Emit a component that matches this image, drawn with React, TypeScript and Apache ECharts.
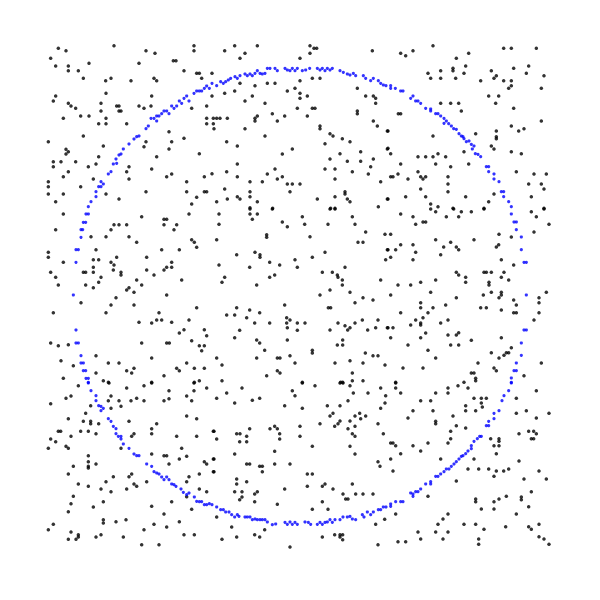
import React, { useEffect, useRef } from "react";
import * as echarts from "echarts";

// Values are in the chart's own units: both axes run from 0 to 1566 (y grows downward).
const axisMin = 0;
const axisMax = 1566;

// Scattered black points, upper band
const scatterUpper: number[][] = [
  [222,32],[55,40],[78,47],[462,32],[462,47],[318,47],[345,55],[32,70],[400,77],[408,77],[147,85],[297,85],[47,93],[85,93],[85,107],[115,107],[432,107],[470,115],[478,115],[516,115],[130,130],[485,130],[197,137],[213,130],[273,137],[342,130],[350,137],[198,175],[335,183],[47,183],[40,198],[85,205],[93,213],[107,220],[183,205],[230,213],[237,213],[297,213],[312,220],[333,213],[455,220],[500,213],[516,183],[122,243],[147,243],[183,228],[237,228],[243,228],[70,250],[198,250],[176,266],[198,266],[260,266],[500,250],[500,266],[520,250],[520,266],[387,290],[130,303],[432,310],[25,320],[318,320],[395,320],[190,333],[312,335],[78,343],[85,350],[78,357],[387,342],[478,356],[176,365],[350,365],[40,380],[63,380],[107,380],[40,395],[145,395],[168,387],[267,395],[335,402],[85,410],[260,410],[395,417],[516,416],[70,425],[380,425],[493,425],[160,432],[267,432],[25,440],[440,440],[25,455],[122,455],[25,477],[70,477],[198,477],[318,470],[440,470],[493,470],[500,470],[47,500],[237,492],[470,487],[455,507],
  [554,47],[584,32],[652,32],[615,55],[600,70],[810,32],[822,40],[830,40],[997,47],[780,70],[810,55],[780,137],[817,130],[840,130],[600,145],[645,152],[682,145],[705,145],[765,160],[742,168],[780,175],[780,190],[802,183],[554,175],[584,168],[637,183],[615,198],[952,160],[977,183],[1000,183],[1007,190],[1007,205],[675,205],[772,220],[817,220],[825,220],[697,236],[652,243],[645,250],[645,258],[734,243],[802,243],[952,228],[952,236],[1000,258],[530,250],[540,250],[562,250],[712,258],[522,281],[615,281],[840,273],[840,281],[1012,273],[1042,288],[870,296],[879,303],[675,303],[907,311],[930,320],[560,320],[592,333],[855,326],[757,342],[1042,342],[962,350],[727,357],[900,356],[870,372],[922,379],[962,379],[1000,372],[592,387],[705,402],[855,402],[885,402],[937,410],[992,395],[560,410],[682,417],[727,425],[712,432],[592,425],[985,417],[630,440],[667,440],[742,447],[757,447],[780,447],[885,432],[1022,440],[554,462],[630,470],[750,470],[915,470],[915,477],[630,485],[592,485],[600,492],[562,492],[530,500],[652,500],[832,492],[885,485],[922,492],[930,500],[1042,492],[630,518],[698,520],[872,520],[885,520],[1015,515],
  [1179,32],[1082,55],[1097,62],[1119,47],[1286,55],[1391,40],[1414,40],[1489,40],[1249,70],[1277,93],[1239,100],[1239,107],[1202,107],[1164,115],[1172,130],[1202,130],[1247,130],[1272,115],[1322,137],[1354,107],[1369,122],[1362,130],[1391,137],[1414,137],[1421,100],[1459,115],[1466,93],[1512,122],[1414,152],[1406,160],[1504,160],[1346,183],[1376,183],[1367,205],[1202,205],[1232,205],[1256,205],[1264,228],[1075,236],[1082,236],[1421,220],[1504,258],[1414,273],[1452,281],[1436,288],[1369,288],[1369,305],[1369,311],[1307,296],[1179,303],[1044,288],[1354,333],[1362,342],[1272,350],[1414,350],[1444,356],[1044,340],[1052,356],[1134,365],[1157,365],[1179,365],[1194,356],[1217,365],[1082,387],[1187,387],[1286,387],[1232,395],[1429,410],[1482,417],[1519,417],[1074,417],[1052,425],[1059,425],[1104,432],[1134,410],[1142,425],[1149,432],[1157,425],[1224,425],[1224,447],[1466,447],[1504,447],[1142,462],[1224,470],[1512,462],[1362,477],[1097,485],[1157,485],[1277,485],[1474,485],[1044,492],[1172,507],[1194,515],[1239,520],[1346,500],[1332,520],[1512,520]
];

// Scattered black points, middle band
const scatterMiddle: number[][] = [
  [70,537],[305,545],[447,537],[372,553],[380,553],[372,569],[410,569],[222,569],[237,569],[260,569],[47,584],[213,584],[402,584],[153,605],[198,605],[267,605],[290,622],[455,614],[463,622],[470,637],[25,652],[25,667],[168,644],[365,644],[418,644],[230,667],[320,667],[160,674],[176,674],[70,682],[213,682],[222,690],[395,682],[395,697],[380,697],[372,705],[130,712],[137,712],[160,712],[160,697],[220,705],[243,712],[243,720],[320,705],[342,720],[32,712],[47,727],[183,727],[176,742],[55,750],[137,750],[160,758],[290,735],[267,758],[260,765],[305,750],[282,772],[425,735],[380,780],[228,788],[123,803],[213,810],[282,810],[470,818],[40,833],[198,833],[357,833],[297,862],[335,864],[350,855],[365,855],[395,862],[447,855],[432,884],[418,894],[493,884],[500,902],[32,924],[55,932],[85,929],[305,924],[380,924],[388,924],[455,917],[478,932],[493,932],[485,947],[168,962],[335,969],[63,977],[100,992],[205,984],[237,984],[282,1000],[260,1007],[275,1014],[410,1000],[418,1007],[440,984],[463,1000],[493,1000],[168,1014],[70,1030],[190,1037],[205,1042],[372,1022],[335,1042],[463,1042],[478,1037],
  [537,537],[630,522],[630,537],[652,537],[637,553],[697,522],[787,545],[870,522],[885,522],[937,545],[537,568],[727,561],[742,575],[794,568],[864,568],[945,568],[530,614],[680,599],[680,607],[810,605],[977,591],[954,622],[969,622],[1035,598],[590,659],[645,652],[660,659],[660,667],[855,652],[1042,644],[537,690],[629,697],[689,682],[719,690],[765,674],[772,697],[817,667],[1037,674],[554,727],[546,742],[689,727],[704,720],[650,750],[847,712],[877,712],[892,720],[894,727],[915,697],[907,735],[907,750],[1022,735],[870,765],[840,780],[930,772],[969,788],[999,795],[945,803],[734,810],[590,818],[560,840],[584,840],[629,825],[659,833],[620,848],[644,864],[689,864],[740,848],[750,855],[740,864],[772,864],[795,864],[865,818],[872,818],[967,855],[1014,855],[894,864],[915,872],[930,878],[945,864],[923,885],[870,885],[983,885],[1007,878],[1042,878],[742,878],[772,886],[599,886],[584,908],[650,915],[659,924],[742,915],[908,915],[892,930],[908,930],[674,946],[817,946],[817,954],[976,954],[999,962],[1014,962],[530,969],[650,969],[712,969],[720,969],[750,962],[765,984],[885,984],[930,977],[969,984],[546,990],[1035,990],[712,1007],[720,1014],[937,1014],[680,1022],[546,1037],[787,1042],[902,1042],[908,1042],[937,1037],[969,1037],
  [1082,537],[1119,545],[1172,522],[1187,530],[1219,545],[1241,522],[1256,545],[1264,530],[1294,530],[1332,522],[1474,530],[1489,545],[1512,522],[1527,568],[1127,568],[1149,561],[1157,561],[1052,598],[1082,629],[1119,629],[1067,644],[1044,644],[1127,652],[1052,667],[1119,674],[1187,614],[1232,622],[1211,636],[1202,659],[1249,636],[1256,644],[1302,614],[1377,598],[1376,629],[1369,636],[1414,606],[1482,591],[1384,674],[1421,690],[1249,712],[1256,720],[1277,727],[1277,742],[1332,712],[1339,712],[1354,712],[1392,712],[1384,727],[1406,735],[1347,742],[1347,750],[1074,750],[1112,750],[1142,742],[1187,735],[1172,772],[1052,780],[1249,788],[1330,780],[1354,772],[1384,772],[1384,780],[1377,788],[1421,795],[1429,810],[1497,788],[1497,803],[1519,772],[1142,803],[1142,818],[1179,818],[1217,810],[1322,818],[1339,818],[1384,825],[1421,833],[1429,833],[1082,833],[1127,855],[1149,848],[1142,864],[1142,870],[1112,870],[1164,833],[1202,864],[1224,855],[1497,833],[1482,855],[1044,878],[1059,878],[1157,894],[1142,908],[1052,908],[1224,900],[1249,900],[1256,893],[1384,908],[1104,930],[1232,930],[1256,930],[1294,916],[1414,938],[1399,953],[1406,953],[1392,961],[1377,969],[1354,953],[1164,946],[1187,969],[1314,984],[1504,984],[1089,999],[1149,999],[1362,999],[1369,1007],[1294,1014],[1302,1014],[1307,1030],[1307,1037],[1452,1022],[1067,1042],[1272,1042]
];

// Scattered black points, lower band
const scatterLower: number[][] = [
  [115,1052],[207,1044],[260,1059],[312,1052],[335,1044],[387,1067],[462,1044],[462,1067],[500,1059],[78,1090],[93,1083],[32,1106],[152,1112],[213,1083],[205,1097],[213,1120],[237,1097],[243,1114],[273,1097],[290,1090],[312,1097],[372,1097],[387,1091],[440,1083],[455,1097],[85,1151],[137,1135],[130,1159],[152,1159],[152,1166],[176,1166],[267,1159],[350,1166],[440,1143],[470,1151],[55,1189],[62,1189],[93,1204],[122,1189],[145,1189],[168,1196],[282,1196],[275,1204],[335,1181],[335,1196],[410,1204],[470,1204],[520,1189],[32,1212],[47,1220],[78,1234],[85,1240],[25,1240],[243,1240],[425,1240],[145,1262],[145,1280],[145,1294],[145,1299],[168,1287],[100,1294],[335,1257],[372,1262],[380,1262],[418,1272],[440,1264],[493,1280],[500,1287],[387,1287],[520,1272],[85,1317],[220,1325],[267,1325],[275,1317],[198,1340],[282,1347],[290,1354],[320,1340],[447,1325],[478,1317],[440,1340],[520,1310],[115,1347],[145,1354],[183,1362],[213,1370],[260,1362],[478,1362],[500,1370],[100,1384],[93,1406],[85,1430],[190,1400],[160,1416],[335,1414],[395,1400],[372,1437],[455,1423],[440,1385],[190,1454],[190,1464],[228,1460],[258,1454],[418,1460],[40,1468],[25,1484],[93,1491],[115,1499],[115,1506],[108,1513],[85,1513],[168,1506],[183,1499],[250,1506],[312,1484],[342,1468],[380,1476],[432,1499],[463,1499],[305,1529],[357,1529],
  [530,1090],[560,1074],[606,1059],[584,1104],[637,1096],[659,1090],[757,1067],[765,1082],[787,1044],[825,1052],[900,1044],[909,1044],[930,1052],[940,1074],[984,1074],[1022,1059],[1037,1082],[734,1112],[787,1120],[862,1112],[900,1112],[870,1143],[879,1135],[900,1158],[894,1166],[884,1174],[840,1166],[924,1097],[930,1158],[945,1143],[959,1135],[962,1151],[977,1143],[1022,1120],[1035,1104],[522,1189],[530,1212],[590,1196],[600,1196],[629,1181],[620,1204],[620,1220],[599,1220],[690,1181],[704,1174],[712,1181],[719,1196],[719,1212],[780,1174],[780,1204],[817,1234],[924,1181],[937,1196],[945,1204],[945,1174],[930,1234],[945,1257],[1014,1166],[1030,1196],[584,1257],[704,1249],[522,1272],[620,1287],[629,1287],[659,1294],[667,1294],[667,1310],[704,1287],[750,1287],[522,1310],[802,1317],[817,1317],[802,1354],[855,1347],[847,1354],[879,1362],[937,1347],[909,1377],[917,1392],[924,1392],[947,1377],[969,1377],[999,1377],[1014,1280],[1020,1294],[590,1332],[590,1347],[620,1340],[584,1370],[606,1370],[606,1386],[599,1394],[644,1400],[644,1377],[652,1370],[734,1362],[712,1408],[847,1400],[817,1423],[864,1423],[530,1446],[1034,1453],[575,1476],[1007,1468],[674,1484],[644,1499],[659,1506],[590,1506],[546,1513],[847,1506],[884,1499],[900,1499],[908,1514],[900,1506],[908,1499],[1014,1529],[750,1536],
  [1067,1044],[1067,1059],[1082,1074],[1224,1059],[1224,1074],[1254,1052],[1284,1059],[1187,1074],[1142,1097],[1172,1097],[1302,1090],[1324,1090],[1339,1090],[1324,1104],[1327,1116],[1429,1090],[1489,1067],[1277,1112],[1277,1127],[1307,1127],[1119,1127],[1179,1127],[1104,1149],[1239,1143],[1187,1159],[1187,1166],[1249,1172],[1277,1179],[1232,1189],[1232,1211],[1224,1224],[1429,1135],[1459,1127],[1489,1149],[1527,1135],[1437,1196],[1466,1189],[1481,1189],[1489,1196],[1474,1211],[1481,1211],[1052,1224],[1059,1224],[1067,1232],[1119,1232],[1164,1224],[1142,1248],[1082,1256],[1352,1211],[1377,1211],[1377,1219],[1362,1232],[1377,1232],[1369,1256],[1052,1272],[1202,1272],[1302,1272],[1059,1308],[1284,1302],[1316,1302],[1346,1302],[1369,1308],[1391,1308],[1406,1302],[1362,1324],[1437,1278],[1497,1308],[1519,1332],[1452,1332],[1249,1338],[1474,1370],[1164,1384],[1307,1392],[1307,1400],[1362,1400],[1377,1392],[1399,1384],[1444,1386],[1444,1394],[1067,1437],[1324,1422],[1362,1422],[1466,1415],[1429,1437],[1224,1437],[1209,1452],[1194,1468],[1272,1468],[1307,1468],[1397,1475],[1466,1475],[1474,1483],[1497,1468],[1332,1483],[1134,1491],[1187,1491],[1224,1491],[1497,1505],[1512,1512],[1527,1528],[1142,1512],[1209,1512],[1316,1512],[1316,1528],[1074,1520],[1097,1520]
];

// Blue points tracing the ring, upper half
const ringUpper: number[][] = [
  [145,515],[153,500],[168,485],[168,470],[176,455],[183,440],[190,447],[183,455],[205,417],[213,410],[220,387],[228,372],[230,385],[237,360],[243,357],[250,342],[267,327],[282,312],[290,305],[297,303],[318,281],[325,273],[333,250],[342,250],[350,258],[350,243],[357,243],[365,236],[372,228],[380,228],[387,236],[395,213],[402,220],[410,213],[418,198],[425,205],[432,190],[440,183],[447,198],[462,175],[470,168],[478,168],[485,168],[493,160],[500,153],[508,160],[516,145],
  [530,152],[542,140],[550,145],[557,140],[565,135],[572,130],[585,125],[592,130],[600,122],[615,117],[622,122],[630,117],[637,122],[645,115],[652,107],[660,115],[667,117],[675,115],[682,100],[690,100],[705,100],[712,107],[735,100],[742,105],[750,107],[757,100],[765,107],[772,100],[787,107],[797,105],[809,100],[832,100],[840,105],[847,100],[855,107],[862,100],[870,105],[877,100],[900,107],[910,112],[922,117],[930,120],[940,115],[947,122],[970,122],[977,130],[992,137],[1000,130],[1015,137],[1022,145],[1030,150],[1038,152],
  [1052,152],[1052,160],[1066,160],[1082,168],[1089,168],[1119,183],[1112,190],[1127,198],[1134,198],[1142,205],[1157,220],[1172,222],[1172,228],[1187,236],[1194,236],[1202,243],[1212,250],[1219,258],[1212,265],[1226,266],[1234,273],[1241,281],[1249,283],[1257,296],[1264,303],[1269,305],[1272,311],[1279,320],[1287,318],[1294,328],[1302,333],[1297,342],[1306,356],[1314,358],[1322,365],[1339,395],[1346,395],[1346,410],[1362,417],[1362,432],[1377,440],[1384,470],[1391,470],[1391,485],[1406,500],[1414,515]
];

// Blue points tracing the ring, sides
const ringSides: number[][] = [
  [138,537],[145,537],[130,562],[137,562],[123,584],[128,584],[123,607],[108,644],[115,644],[108,682],[100,780],[108,885],[108,924],[115,924],[123,962],[123,984],[130,984],[130,1007],[137,1007],[138,1030],[145,1030],[145,1042],
  [1414,537],[1422,561],[1429,561],[1429,584],[1444,606],[1444,644],[1452,682],[1459,682],[1459,780],[1452,885],[1459,885],[1444,924],[1444,961],[1429,984],[1422,1007],[1429,1007],[1414,1029],[1414,1042]
];

// Blue points tracing the ring, lower half
const ringLower: number[][] = [
  [145,1044],[153,1067],[168,1082],[168,1097],[176,1112],[183,1114],[190,1120],[183,1127],[205,1151],[213,1159],[220,1174],[228,1181],[228,1196],[235,1204],[243,1204],[243,1212],[250,1227],[267,1240],[282,1257],[290,1262],[297,1262],[320,1287],[335,1294],[342,1310],[350,1314],[357,1317],[365,1326],[372,1334],[380,1326],[387,1334],[395,1347],[402,1349],[408,1354],[423,1362],[430,1372],[440,1379],[447,1374],[463,1386],[470,1399],[478,1400],[485,1400],[493,1409],[500,1409],[508,1406],[516,1409],
  [530,1416],[542,1424],[550,1424],[557,1431],[567,1431],[575,1439],[584,1446],[597,1444],[592,1439],[615,1446],[622,1446],[630,1446],[637,1454],[645,1452],[652,1454],[660,1454],[667,1454],[675,1454],[682,1461],[697,1469],[707,1467],[735,1462],[742,1468],[750,1461],[757,1468],[765,1462],[772,1468],[795,1461],[805,1462],[812,1468],[832,1468],[840,1462],[847,1468],[855,1462],[862,1461],[870,1454],[877,1462],[885,1454],[900,1454],[909,1446],[922,1446],[930,1444],[937,1452],[947,1454],[967,1439],[972,1446],[982,1431],[992,1439],[1000,1431],[1015,1424],[1022,1424],[1030,1416],[1038,1416],
  [1414,1044],[1406,1067],[1392,1082],[1386,1097],[1377,1127],[1362,1135],[1362,1151],[1346,1159],[1339,1172],[1346,1172],[1324,1204],[1319,1204],[1312,1211],[1302,1219],[1294,1232],[1294,1241],[1284,1248],[1277,1256],[1264,1264],[1269,1262],[1257,1272],[1249,1280],[1242,1287],[1234,1294],[1227,1302],[1219,1302],[1212,1310],[1202,1317],[1194,1324],[1187,1324],[1172,1340],[1172,1347],[1157,1347],[1142,1362],[1134,1370],[1127,1370],[1119,1377],[1112,1374],[1119,1384],[1089,1400],[1082,1400],[1067,1400],[1052,1407],[1052,1414]
];

export default function App() {
  const ref = useRef<HTMLDivElement>(null);
  useEffect(() => {
    if (!ref.current) return;
    const chart = echarts.init(ref.current, undefined, { renderer: "svg" });
    const hiddenAxis = {
      type: "value" as const,
      min: axisMin,
      max: axisMax,
      show: false,
      splitLine: { show: false },
    };
    chart.setOption({
      animation: false,
      backgroundColor: "#ffffff",
      grid: { left: 40, top: 35, width: 522, height: 522, containLabel: false },
      xAxis: { ...hiddenAxis },
      yAxis: { ...hiddenAxis, inverse: true },
      series: [
        {
          type: "scatter",
          name: "points",
          data: [...scatterUpper, ...scatterMiddle, ...scatterLower],
          symbolSize: 3.5,
          itemStyle: { color: "#000000" },
          clip: false,
        },
        {
          type: "scatter",
          name: "ring",
          data: [...ringUpper, ...ringSides, ...ringLower],
          symbolSize: 3.2,
          itemStyle: { color: "#0000ff" },
          clip: false,
        },
      ],
    });
    return () => chart.dispose();
  }, []);
  return (
    <div
      ref={ref}
      style={{ position: "fixed", left: 0, top: 0, width: 600, height: 600 }}
    />
  );
}
